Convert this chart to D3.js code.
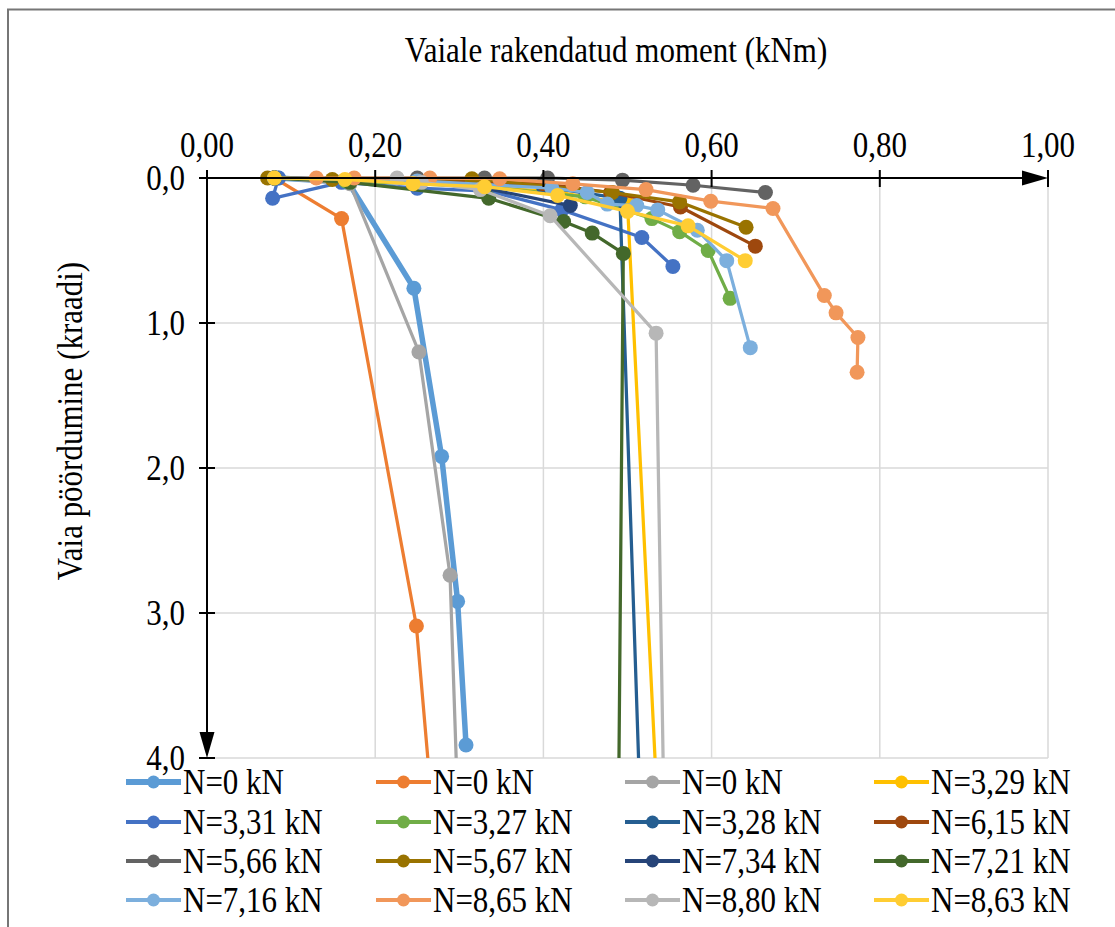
<!DOCTYPE html>
<html>
<head>
<meta charset="utf-8">
<script src="https://cdn.jsdelivr.net/npm/d3@7"></script>
<style>
  html, body { margin: 0; padding: 0; background: #fff; }
  svg { display: block; }
  text { font-family: "Liberation Serif", "Times New Roman", serif; fill: #000; }
</style>
</head>
<body>
<svg id="chart" width="1115" height="927"></svg>
<script>
// Series labels (axial load on the pile)
const seriesLabels = [
  "N=0 kN", "N=0 kN", "N=0 kN", "N=3,29 kN",
  "N=3,31 kN", "N=3,27 kN", "N=3,28 kN", "N=6,15 kN",
  "N=5,66 kN", "N=5,67 kN", "N=7,34 kN", "N=7,21 kN",
  "N=7,16 kN", "N=8,65 kN", "N=8,80 kN", "N=8,63 kN"
];

// Applied moment (kNm) per series
const momentKNm = [
  [0.085, 0.168, 0.246, 0.279, 0.298, 0.308],
  [0.08, 0.16, 0.249, 0.27],
  [0.08, 0.17, 0.252, 0.289, 0.298],
  [0.08, 0.25, 0.33, 0.42, 0.50, 0.537],
  [0.085, 0.078, 0.16, 0.25, 0.335, 0.422, 0.517, 0.554],
  [0.08, 0.165, 0.33, 0.45, 0.529, 0.562, 0.596, 0.622],
  [0.08, 0.25, 0.40, 0.491, 0.516],
  [0.08, 0.25, 0.40, 0.48, 0.563, 0.652],
  [0.08, 0.25, 0.33, 0.405, 0.494, 0.578, 0.664],
  [0.072, 0.149, 0.315, 0.482, 0.562, 0.641],
  [0.08, 0.25, 0.33, 0.432],
  [0.08, 0.17, 0.335, 0.424, 0.458, 0.495, 0.489],
  [0.08, 0.25, 0.41, 0.452, 0.476, 0.511, 0.536, 0.583, 0.618, 0.646],
  [0.13, 0.175, 0.265, 0.348, 0.435, 0.522, 0.599, 0.673, 0.734, 0.748, 0.774, 0.773],
  [0.226, 0.255, 0.325, 0.408, 0.534, 0.544],
  [0.08, 0.164, 0.245, 0.33, 0.417, 0.50, 0.572, 0.64]
];

// Pile rotation (degrees) per series
const rotationDeg = [
  [0.0, 0.03, 0.76, 1.92, 2.92, 3.91],
  [0.0, 0.28, 3.09, 4.5],
  [0.0, 0.04, 1.20, 2.74, 4.3],
  [0.0, 0.03, 0.06, 0.10, 0.18, 4.5],
  [0.0, 0.14, 0.03, 0.07, 0.09, 0.22, 0.41, 0.61],
  [0.0, 0.02, 0.06, 0.13, 0.28, 0.37, 0.50, 0.83],
  [0.0, 0.02, 0.06, 0.14, 4.5],
  [0.0, 0.01, 0.04, 0.10, 0.20, 0.47],
  [0.0, 0.0, 0.0, 0.0, 0.015, 0.05, 0.10],
  [0.0, 0.01, 0.005, 0.10, 0.165, 0.34],
  [0.0, 0.03, 0.07, 0.19],
  [0.0, 0.03, 0.14, 0.30, 0.38, 0.52, 4.6],
  [0.0, 0.02, 0.07, 0.10, 0.18, 0.19, 0.22, 0.36, 0.57, 1.17],
  [0.0, 0.0, 0.0, 0.005, 0.04, 0.08, 0.16, 0.21, 0.81, 0.93, 1.10, 1.34],
  [0.0, 0.03, 0.08, 0.26, 1.07, 4.6],
  [0.0, 0.01, 0.04, 0.06, 0.12, 0.23, 0.33, 0.57]
];

const xTickValues = [0, 0.2, 0.4, 0.6, 0.8, 1.0];
const yTickValues = [0, 1, 2, 3, 4];

// Line colours, one per series
const palette = [
  "#5B9BD5", "#ED7D31", "#A5A5A5", "#FFC000",
  "#4472C4", "#70AD47", "#255E91", "#9E480E",
  "#636363", "#997300", "#264478", "#43682B",
  "#7CAFDD", "#F1975A", "#B7B7B7", "#FFCD33"
];

const svg = d3.select("#chart");
const plot = { left: 207, right: 1048, top: 178, bottom: 758 };
const fontSize = 31;
const stretch = 1.15; // tall serif lettering

const x = d3.scaleLinear().domain([0, 1]).range([plot.left, plot.right]);
const y = d3.scaleLinear().domain([0, 4]).range([plot.top, plot.bottom]);
const fmtX = v => d3.format(".2f")(v).replace(".", ",");
const fmtY = v => d3.format(".1f")(v).replace(".", ",");
const place = (px, py, rot) =>
  `translate(${px},${py})` + (rot ? ` rotate(${rot})` : "") + ` scale(1,${stretch})`;

// Outer chart frame
svg.append("rect")
  .attr("x", 8).attr("y", 9.5).attr("width", 1200).attr("height", 1000)
  .attr("fill", "#fff").attr("stroke", "#767676").attr("stroke-width", 2);

// Gridlines
const grid = svg.append("g").attr("stroke", "#D9D9D9").attr("stroke-width", 1.5);
grid.selectAll("line.gx").data(xTickValues.filter(d => d > 0)).join("line")
  .attr("x1", d => x(d)).attr("x2", d => x(d))
  .attr("y1", plot.top).attr("y2", plot.bottom);
grid.selectAll("line.gy").data(yTickValues.filter(d => d > 0)).join("line")
  .attr("x1", plot.left).attr("x2", plot.right)
  .attr("y1", d => y(d)).attr("y2", d => y(d));

// Clip for series lines
svg.append("defs").append("clipPath").attr("id", "plotClip")
  .append("rect").attr("x", plot.left).attr("y", plot.top - 10)
  .attr("width", plot.right - plot.left + 10).attr("height", plot.bottom - plot.top + 10);

const series = seriesLabels.map((label, i) => ({
  label, color: palette[i],
  width: i === 0 ? 5.5 : 3.25,
  points: momentKNm[i].map((m, j) => ({ m, r: rotationDeg[i][j] }))
}));

const line = d3.line().x(d => x(d.m)).y(d => y(d.r));

const marks = svg.append("g");
series.forEach(s => {
  const g = marks.append("g");
  g.append("path").datum(s.points)
    .attr("clip-path", "url(#plotClip)")
    .attr("d", line).attr("fill", "none")
    .attr("stroke", s.color).attr("stroke-width", s.width)
    .attr("stroke-linejoin", "round").attr("stroke-linecap", "round");
  g.selectAll("circle").data(s.points.filter(p => p.r <= 4)).join("circle")
    .attr("cx", d => x(d.m)).attr("cy", d => y(d.r)).attr("r", 7.5)
    .attr("fill", s.color);
});

// Top (moment) axis with arrow
const axes = svg.append("g");
axes.append("line")
  .attr("x1", plot.left).attr("x2", plot.right - 20)
  .attr("y1", plot.top).attr("y2", plot.top)
  .attr("stroke", "#000").attr("stroke-width", 2);
axes.append("path")
  .attr("d", `M${plot.right - 26},${plot.top - 7.5} L${plot.right},${plot.top} L${plot.right - 26},${plot.top + 7.5} Z`)
  .attr("fill", "#000");
axes.selectAll("line.tx").data(xTickValues).join("line")
  .attr("x1", d => x(d)).attr("x2", d => x(d))
  .attr("y1", plot.top - 8).attr("y2", plot.top + 9)
  .attr("stroke", "#000").attr("stroke-width", 2);
axes.selectAll("text.tx").data(xTickValues).join("text")
  .attr("transform", d => place(x(d), 157))
  .attr("text-anchor", "middle").attr("font-size", fontSize)
  .text(fmtX);

// Left (rotation) axis with arrow
axes.append("line")
  .attr("x1", plot.left).attr("x2", plot.left)
  .attr("y1", plot.top).attr("y2", plot.bottom - 20)
  .attr("stroke", "#000").attr("stroke-width", 2);
axes.append("path")
  .attr("d", `M${plot.left - 7.5},${plot.bottom - 26} L${plot.left},${plot.bottom} L${plot.left + 7.5},${plot.bottom - 26} Z`)
  .attr("fill", "#000");
axes.selectAll("line.ty").data(yTickValues).join("line")
  .attr("x1", plot.left - 8).attr("x2", plot.left + 8)
  .attr("y1", d => y(d)).attr("y2", d => y(d))
  .attr("stroke", "#000").attr("stroke-width", 2);
axes.selectAll("text.ty").data(yTickValues).join("text")
  .attr("transform", d => place(185, y(d) + 12))
  .attr("text-anchor", "end").attr("font-size", fontSize)
  .text(fmtY);

// Axis titles
svg.append("text")
  .attr("transform", place(616, 62))
  .attr("text-anchor", "middle").attr("font-size", fontSize)
  .text("Vaiale rakendatud moment (kNm)");
svg.append("text")
  .attr("transform", `translate(82,421) rotate(-90) scale(1,${stretch})`)
  .attr("text-anchor", "middle").attr("font-size", fontSize)
  .text("Vaia pöördumine (kraadi)");

// Legend: 4 columns x 4 rows
const legendCols = [126, 376, 625, 874];
const legendRows = [782, 822, 861, 900];
const legend = svg.append("g");
series.forEach((s, i) => {
  const lx = legendCols[i % 4], ly = legendRows[Math.floor(i / 4)];
  const g = legend.append("g").attr("transform", `translate(${lx},${ly})`);
  g.append("line").attr("x1", 0).attr("x2", 55).attr("y1", 0).attr("y2", 0)
    .attr("stroke", s.color).attr("stroke-width", i === 0 ? 6 : 4);
  g.append("circle").attr("cx", 27.5).attr("cy", 0).attr("r", 6.5).attr("fill", s.color);
  g.append("text").attr("transform", place(57, 12))
    .attr("font-size", fontSize).text(s.label);
});
</script>
</body>
</html>
